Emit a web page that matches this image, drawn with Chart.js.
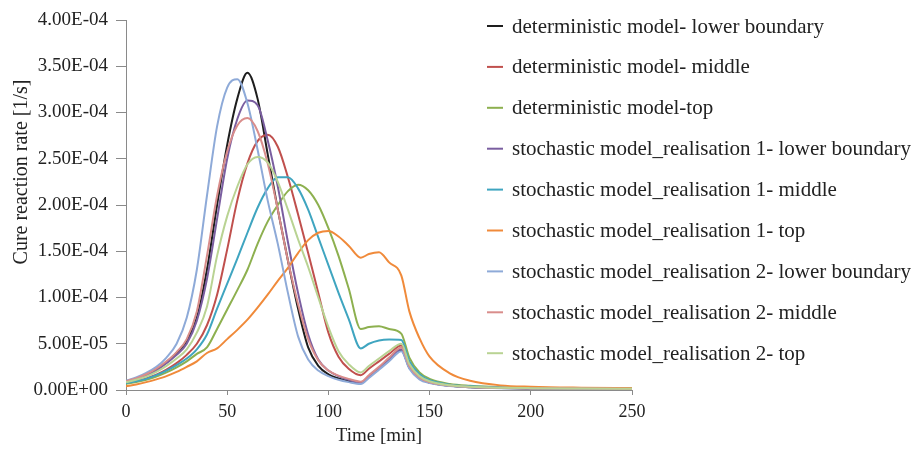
<!DOCTYPE html>
<html>
<head>
<meta charset="utf-8">
<script src="https://cdn.jsdelivr.net/npm/chart.js@4.4.1/dist/chart.umd.min.js"></script>
<style>
  html, body { margin: 0; padding: 0; background: #fff; }
  canvas { display: block; }
</style>
</head>
<body>
<canvas id="cureChart" width="914" height="450"></canvas>
<script>
// time axis [min], shared by all series
const times = [0, 5, 10, 15, 20, 25, 30, 35, 40, 45, 50, 55, 60, 65, 70, 75, 80, 85, 90, 95, 100, 105, 110, 116, 120, 125, 130, 136, 140, 145, 150, 160, 170, 185, 200, 225, 250];

// cure reaction rate values, in units of 1e-5 1/s
const detLower = [0.9, 1.2, 1.6, 2.2, 3.0, 4.0, 5.3, 7.8, 13.0, 20.0, 26.5, 31.5, 34.3, 31.5, 25.5, 19.5, 14.0, 8.8, 4.6, 2.6, 1.7, 1.25, 0.95, 0.75, 1.4, 2.3, 3.2, 4.3, 2.4, 1.25, 0.8, 0.45, 0.3, 0.21, 0.17, 0.13, 0.11];
const detMiddle = [0.75, 0.95, 1.25, 1.65, 2.2, 2.9, 3.8, 5.0, 7.0, 10.3, 15.2, 20.5, 24.5, 26.9, 27.6, 26.3, 23.0, 19.0, 14.8, 10.5, 6.2, 3.6, 2.3, 1.6, 2.3, 3.1, 3.9, 4.8, 2.7, 1.45, 0.9, 0.5, 0.35, 0.24, 0.2, 0.15, 0.13];
const detTop = [0.65, 0.85, 1.1, 1.45, 1.9, 2.45, 3.1, 3.9, 4.6, 6.6, 8.7, 10.8, 13.0, 15.8, 18.2, 20.0, 21.5, 22.2, 21.6, 20.0, 17.5, 14.5, 11.0, 6.6, 6.8, 6.9, 6.6, 6.1, 3.5, 1.9, 1.2, 0.65, 0.45, 0.3, 0.24, 0.19, 0.16];
const sto1Lower = [0.9, 1.15, 1.55, 2.1, 2.9, 3.8, 5.0, 7.5, 12.0, 18.5, 25.0, 29.3, 31.3, 30.8, 27.0, 22.0, 16.0, 10.5, 6.0, 3.3, 2.1, 1.5, 1.1, 0.8, 1.45, 2.35, 3.3, 4.4, 2.5, 1.3, 0.82, 0.46, 0.32, 0.22, 0.18, 0.14, 0.12];
const sto1Middle = [0.75, 0.95, 1.2, 1.6, 2.1, 2.7, 3.4, 4.4, 6.0, 8.8, 11.5, 14.2, 17.0, 19.7, 21.8, 23.0, 23.0, 21.8, 19.5, 16.5, 13.5, 10.5, 7.7, 4.5, 5.0, 5.35, 5.45, 5.4, 3.1, 1.7, 1.05, 0.58, 0.4, 0.28, 0.22, 0.17, 0.14];
const sto1Top = [0.4, 0.6, 0.85, 1.15, 1.5, 1.95, 2.5, 3.1, 4.0, 4.5, 5.5, 6.5, 7.6, 8.9, 10.3, 11.8, 13.2, 14.8, 16.2, 17.0, 17.2, 16.6, 15.6, 14.3, 14.7, 14.9, 13.8, 12.4, 8.5, 5.6, 3.6, 1.8, 1.0, 0.5, 0.35, 0.25, 0.2];
const sto2Lower = [1.0, 1.35, 1.85, 2.5, 3.5, 5.0, 7.8, 13.0, 21.0, 28.5, 32.7, 33.6, 31.0, 26.0, 20.5, 15.8, 10.5, 5.8, 3.3, 2.1, 1.5, 1.1, 0.85, 0.65, 1.3, 2.2, 3.1, 4.2, 2.3, 1.15, 0.75, 0.42, 0.3, 0.2, 0.17, 0.13, 0.11];
const sto2Middle = [0.95, 1.25, 1.7, 2.3, 3.1, 4.1, 5.5, 8.5, 14.5, 21.0, 25.8, 28.6, 29.4, 28.0, 24.5, 19.5, 14.0, 9.3, 5.5, 3.2, 2.1, 1.55, 1.2, 0.9, 1.6, 2.5, 3.5, 4.6, 2.6, 1.35, 0.85, 0.48, 0.33, 0.23, 0.19, 0.15, 0.12];
const sto2Top = [0.85, 1.1, 1.45, 1.95, 2.6, 3.4, 4.4, 6.2, 9.0, 14.5, 18.8, 22.0, 24.4, 25.2, 24.6, 22.5, 19.5, 16.3, 13.3, 10.0, 6.8, 4.2, 2.8, 1.9, 2.6, 3.4, 4.2, 5.0, 2.8, 1.5, 0.95, 0.52, 0.36, 0.25, 0.2, 0.16, 0.13];

const seriesNames = [
  "deterministic model- lower boundary",
  "deterministic model- middle",
  "deterministic model-top",
  "stochastic model_realisation 1- lower boundary",
  "stochastic model_realisation 1- middle",
  "stochastic model_realisation 1- top",
  "stochastic model_realisation 2- lower boundary",
  "stochastic model_realisation 2- middle",
  "stochastic model_realisation 2- top",
];
const seriesValues = [detLower, detMiddle, detTop, sto1Lower, sto1Middle, sto1Top, sto2Lower, sto2Middle, sto2Top];
const seriesColors = ["#1e1e1e", "#c0504d", "#8db04f", "#7a5ea0", "#3fa5c0", "#f08a3a", "#8eaad8", "#d98d8b", "#b9d393"];

const UNIT = 1e-5;
const FONT = "'Liberation Serif', 'Times New Roman', serif";
const TEXT_COLOR = "#222";
const AXIS_COLOR = "#8a8a8a";

function sciLabel(value) {
  const parts = Number(value).toExponential(2).split("e");
  const sign = parts[1][0];
  const digits = parts[1].slice(1).padStart(2, "0");
  return parts[0] + "E" + sign + digits;
}

const datasets = seriesNames.map((name, i) => ({
  label: name,
  data: times.map((t, j) => ({ x: t, y: seriesValues[i][j] * UNIT })),
  borderColor: seriesColors[i],
  backgroundColor: seriesColors[i],
  borderWidth: 2,
  pointRadius: 0,
  cubicInterpolationMode: "monotone",
  fill: false,
  order: seriesNames.length - i,
}));

// legend and y title drawn by hand, the legend sits over the plot area
const sideLegend = {
  id: "sideLegend",
  afterDraw(chart) {
    const ctx = chart.ctx;
    ctx.save();
    ctx.font = "21px " + FONT;
    ctx.textBaseline = "middle";
    ctx.textAlign = "left";
    chart.data.datasets.forEach((ds, i) => {
      const y = 26 + i * 40.9;
      ctx.strokeStyle = ds.borderColor;
      ctx.lineWidth = 2;
      ctx.beginPath();
      ctx.moveTo(487, y);
      ctx.lineTo(503, y);
      ctx.stroke();
      ctx.fillStyle = TEXT_COLOR;
      ctx.fillText(ds.label, 512, y + 1);
    });

    ctx.font = "20px " + FONT;
    ctx.translate(22, 172);
    ctx.rotate(-Math.PI / 2);
    ctx.textAlign = "center";
    ctx.fillText("Cure reaction rate [1/s]", 0, 0);
    ctx.restore();
  },
};

Chart.defaults.font.family = FONT;
Chart.defaults.font.size = 18;
Chart.defaults.color = TEXT_COLOR;

const cureChart = new Chart(document.querySelector("#cureChart").getContext("2d"), {
  type: "line",
  data: { datasets: datasets },
  options: {
    responsive: false,
    animation: false,
    layout: {
      padding: { top: 20, right: 282, bottom: 0, left: 0 },
    },
    plugins: {
      legend: { display: false },
      tooltip: { enabled: false },
    },
    scales: {
      x: {
        type: "linear",
        min: 0,
        max: 250,
        ticks: { stepSize: 50, padding: 6, maxRotation: 0 },
        grid: { drawOnChartArea: false, tickLength: 5, color: AXIS_COLOR },
        border: { color: AXIS_COLOR },
        title: { display: true, text: "Time [min]", font: { size: 19 }, padding: { top: 0, bottom: 3 } },
        afterFit(scale) { scale.height = 60; },
      },
      y: {
        min: 0,
        max: 4e-4,
        ticks: { stepSize: 5e-5, padding: 8, font: { size: 19 }, callback: sciLabel },
        grid: { drawOnChartArea: false, tickLength: 10, color: AXIS_COLOR },
        border: { color: AXIS_COLOR },
        afterFit(scale) { scale.width = 126; },
      },
    },
  },
  plugins: [sideLegend],
});
</script>
</body>
</html>
